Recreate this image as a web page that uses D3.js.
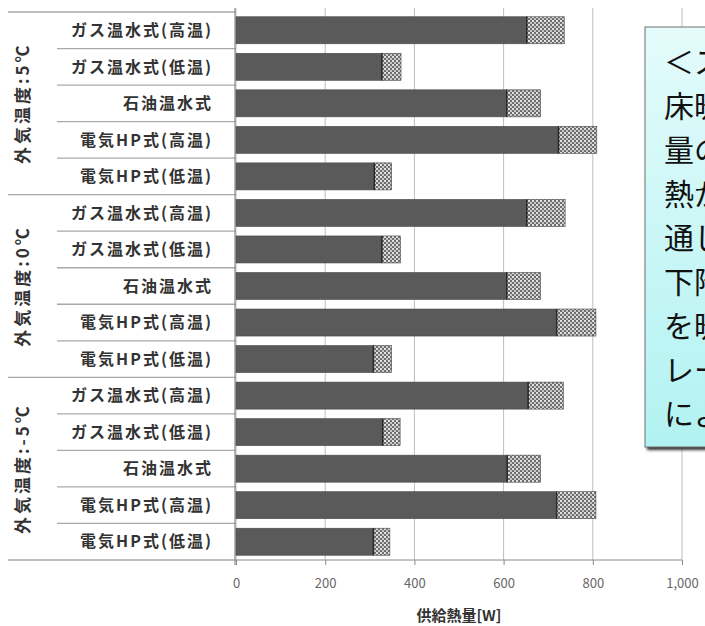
<!DOCTYPE html>
<html><head><meta charset="utf-8">
<script src="https://cdn.jsdelivr.net/npm/d3@7"></script>
<style>
html,body{margin:0;padding:0;background:#fff;overflow:hidden;}
svg{display:block;}
</style></head>
<body>
<svg id="c" width="705" height="626"></svg>
<script>
// ---- data ----
const groups = ["外気温度:5℃", "外気温度:0℃", "外気温度:-5℃"];
const systems = ["ガス温水式(高温)", "ガス温水式(低温)", "石油温水式", "電気HP式(高温)", "電気HP式(低温)"];
const seriesNames = ["床暖房放熱", "床下放熱"];
// dark segment per group (W)
const darkG1 = [652, 327, 607, 723, 310];
const darkG2 = [652, 327, 607, 719, 308];
const darkG3 = [655, 329, 608, 719, 308];
// hatched segment per group (W)
const hatchG1 = [84, 43, 76, 86, 39];
const hatchG2 = [86, 42, 76, 88, 41];
const hatchG3 = [79, 39, 75, 88, 37];
const xTicks = [0, 200, 400, 600, 800, 1000];
const xTitle = "供給熱量[W]";
const noteLines = ["＜ス", "床暖", "量の", "熱が", "通じ", "下階", "を暖", "レー", "によ"];

const darkAll = [darkG1, darkG2, darkG3];
const hatchAll = [hatchG1, hatchG2, hatchG3];
const rows = [];
groups.forEach((g, gi) => systems.forEach((s, si) => {
  rows.push({key: gi + "-" + si, group: g, sys: s, a: darkAll[gi][si], b: hatchAll[gi][si]});
}));

const svg = d3.select("#c");
const font = "'Noto Sans CJK JP','Noto Sans',sans-serif";

const yTop = 12, yBot = 560;
const x = d3.scaleLinear().domain([0, 1000]).range([236, 682]);
const y = d3.scaleBand().domain(rows.map(r => r.key)).range([yTop, yBot]).paddingInner(0.26).paddingOuter(0.13);
const rowH = (yBot - yTop) / rows.length;

// pattern
const defs = svg.append("defs");
const pat = defs.append("pattern").attr("id", "hatch").attr("patternUnits", "userSpaceOnUse")
  .attr("width", 4).attr("height", 4);
pat.append("rect").attr("width", 4).attr("height", 4).attr("fill", "#6e6e6e");
pat.append("rect").attr("x", 0).attr("y", 0).attr("width", 2).attr("height", 2).attr("fill", "#e2e2e2");
pat.append("rect").attr("x", 2).attr("y", 2).attr("width", 2).attr("height", 2).attr("fill", "#c8c8c8");

const grad = defs.append("linearGradient").attr("id", "boxg").attr("x1", 0).attr("y1", 0).attr("x2", 0).attr("y2", 1);
grad.append("stop").attr("offset", "0%").attr("stop-color", "#e4fbfb");
grad.append("stop").attr("offset", "100%").attr("stop-color", "#b2f2f2");
const blur = defs.append("filter").attr("id", "sh").attr("x", "-20%").attr("y", "-20%").attr("width", "140%").attr("height", "140%");
blur.append("feGaussianBlur").attr("stdDeviation", 1.5);

// gridlines
svg.append("g").selectAll("line").data(xTicks).join("line")
  .attr("x1", d => x(d)).attr("x2", d => x(d)).attr("y1", 8).attr("y2", yBot)
  .attr("stroke", "#bdbdbd").attr("stroke-width", 1);

// x axis
const xAxis = d3.axisBottom(x).tickValues(xTicks).tickSize(5).tickPadding(14)
  .tickFormat(d3.format(","));
const gx = svg.append("g").attr("transform", `translate(0,${yBot})`).call(xAxis);
gx.select(".domain").attr("stroke", "#8a8a8a").attr("d", `M${x(0)},0H${x(1000)}`);
gx.selectAll(".tick line").attr("stroke", "#8a8a8a");
gx.selectAll(".tick text").attr("fill", "#666").style("font-family", font).style("font-size", "13px");

svg.append("text").attr("x", (x(0) + x(1000)) / 2).attr("y", 621).attr("text-anchor", "middle")
  .attr("fill", "#333").style("font-family", font).style("font-size", "15px").style("font-weight", "bold")
  .text(xTitle);

// category table lines
const tbl = svg.append("g").attr("stroke", "#a8a8a8").attr("stroke-width", 1.3);
rows.forEach((r, i) => {
  if (i === 0) return;
  const yy = yTop + i * rowH;
  const isGroup = i % systems.length === 0;
  tbl.append("line").attr("x1", isGroup ? 8 : 57).attr("x2", x(0)).attr("y1", yy).attr("y2", yy);
});
tbl.append("line").attr("x1", 8).attr("x2", x(0)).attr("y1", yTop).attr("y2", yTop);
tbl.append("line").attr("x1", 8).attr("x2", x(0)).attr("y1", yBot).attr("y2", yBot);
svg.append("line").attr("x1", x(0) - 1).attr("x2", x(0) - 1).attr("y1", yTop - 4).attr("y2", yBot + 5)
  .attr("stroke", "#8a8a8a").attr("stroke-width", 1.2);

// category labels
svg.append("g").selectAll("text").data(rows).join("text")
  .attr("x", 213).attr("y", (d, i) => yTop + (i + 0.5) * rowH).attr("dy", "0.36em")
  .attr("text-anchor", "end").attr("fill", "#333")
  .style("font-family", font).style("font-size", "16px").style("font-weight", "bold")
  .style("letter-spacing", "2px")
  .text(d => d.sys);

// group labels
svg.append("g").selectAll("text").data(groups).join("text")
  .attr("transform", (d, i) => `translate(23,${yTop + (i + 0.5) * systems.length * rowH}) rotate(-90)`)
  .attr("text-anchor", "middle").attr("dy", "0.36em").attr("fill", "#333")
  .style("font-family", font).style("font-size", "17px").style("font-weight", "bold")
  .style("letter-spacing", "3px")
  .text(d => d);

// stacked bars
const stack = d3.stack().keys(["a", "b"]);
const stacked = stack(rows);
const fills = ["#5a5a5a", "url(#hatch)"];
svg.append("g").selectAll("g").data(stacked).join("g")
  .attr("fill", (d, i) => fills[i])
  .selectAll("rect").data(d => d.map(v => ({v, key: v.data.key}))).join("rect")
  .attr("x", d => x(d.v[0])).attr("width", d => x(d.v[1]) - x(d.v[0]))
  .attr("y", d => y(d.key)).attr("height", y.bandwidth())
  .attr("stroke", "#4a4a4a").attr("stroke-width", 0.6);
// boundary strip between segments
svg.append("g").selectAll("line").data(rows).join("line")
  .attr("x1", d => x(d.a)).attr("x2", d => x(d.a))
  .attr("y1", d => y(d.key)).attr("y2", d => y(d.key) + y.bandwidth())
  .attr("stroke", "#2a2a2a").attr("stroke-width", 1.5);

// callout box
const bx = 645, by = 27, bw = 90, bh = 420;
svg.append("rect").attr("x", bx + 2).attr("y", by + 3).attr("width", bw).attr("height", bh)
  .attr("fill", "#333").attr("filter", "url(#sh)");
svg.append("rect").attr("x", bx).attr("y", by).attr("width", bw).attr("height", bh)
  .attr("fill", "url(#boxg)").attr("stroke", "#707070").attr("stroke-width", 1);
svg.append("g").selectAll("text").data(noteLines).join("text")
  .attr("x", 664).attr("y", (d, i) => 62 + i * 44).attr("dy", "0.37em")
  .attr("fill", "#111").style("font-family", font).style("font-size", "30px")
  .text(d => d);
</script>
</body></html>
